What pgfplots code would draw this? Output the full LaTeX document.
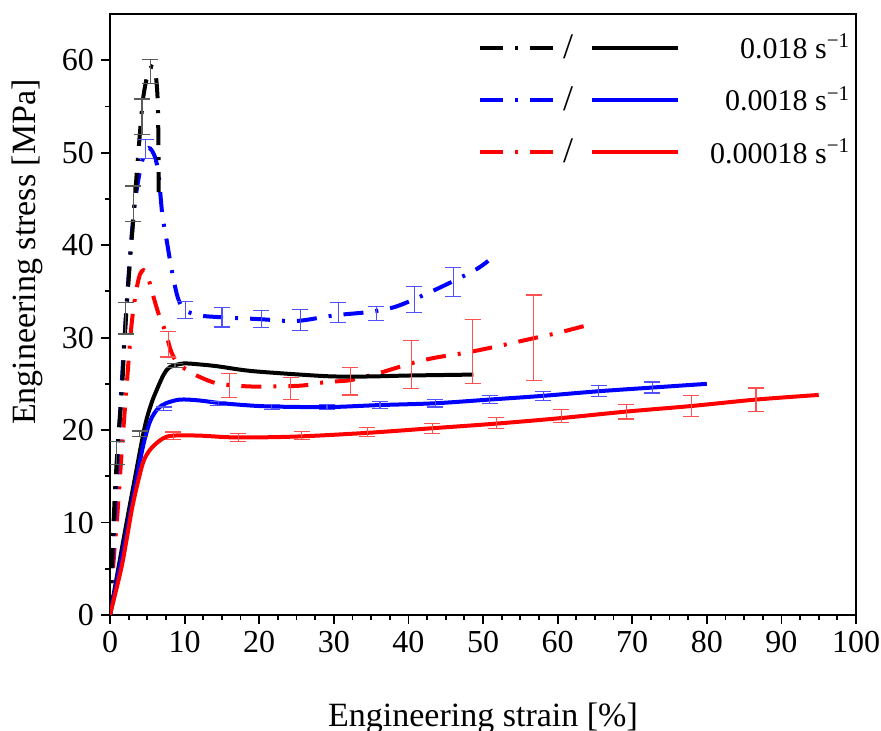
\documentclass[border=0pt]{standalone}
\usepackage{fontspec}
\setmainfont{Liberation Serif}
\usepackage{pgfplots}
\pgfplotsset{compat=1.18}
\definecolor{eblack}{RGB}{90,90,90}
\definecolor{eblue}{RGB}{80,80,255}
\definecolor{ered}{RGB}{255,80,80}
\pgfplotsset{
  ddash/.style={line width=2pt, smooth, tension=0.5, dash pattern=on 10pt off 6pt on 1.5pt off 6pt},
  sline/.style={line width=2pt, smooth, tension=0.5, solid},
  ebar/.style={forget plot, draw=none, mark=none,
    error bars/.cd, y dir=both, y explicit,
    error bar style={line width=0.6pt, draw=#1, solid},
    error mark options={rotate=90, mark size=4pt, line width=0.6pt, draw=#1, solid}},
}
\begin{document}
\begin{tikzpicture}
\begin{axis}[
  scale only axis, width=373pt, height=300.5pt,
  xmin=0, xmax=100, ymin=0, ymax=65,
  xtick={0,10,...,100}, ytick={0,10,...,60},
  minor x tick num=3, minor y tick num=1,
  tick align=outside, tick pos=left,
  major tick length=4.5pt, minor tick length=2.5pt,
  axis line style={line width=1pt},
  every tick/.style={line width=0.9pt, black},
  ticklabel style={font=\fontsize{16}{18}\selectfont},
  /pgf/number format/assume math mode=true,
  xlabel={Engineering strain [\%]},
  ylabel={Engineering stress [MPa]},
  label style={font=\fontsize{17}{20}\selectfont},
  xlabel style={at={(axis description cs:0.5,-0.185)}, anchor=base},
  ylabel style={at={(axis description cs:-0.111,0.604)}, anchor=center},
  legend style={draw=none, fill=none, at={(axis cs:99.8,63.3)}, anchor=north east,
    font=\fontsize{15}{17}\selectfont, row sep=8.5pt, inner sep=0pt},
  legend cell align=right,
  legend image code/.code={
    \draw[#1, dash pattern=on 11.5pt off 6pt on 1.5pt off 6pt] (0pt,0pt) -- (37pt,0pt);
    \node[text=black, font=\fontsize{18}{20}\selectfont, inner sep=0pt] at (47.5pt,0pt) {/};
    \draw[#1, solid] (56pt,0pt) -- (99pt,0pt);
    \path (112pt,0pt);
  },
]
% dash-dot curves
\addplot[ddash, red, forget plot] coordinates {
(0,0) (0.5,6) (1.0,11) (1.6,18) (2.3,25.5) (2.9,31.5) (3.5,35) (4.0,36.8) (4.5,37.3) (5.0,36.8)
(5.8,34.5) (6.5,32.6) (7.4,30.7) (8.2,28.5) (9,27.3) (10.1,26.6) (11.6,25.9) (14.1,25.1) (17,24.8)
(20,24.7) (25.5,24.8) (29,25.2) (32.2,25.4) (36.2,26.2) (40.3,27.2) (43.4,27.8) (47.9,28.4)
(51,28.9) (53.3,29.3) (57.7,30.1) (60,30.5) (64.7,31.5)};
\addplot[ddash, blue, forget plot] coordinates {
(0,0) (0.4,7) (0.9,15) (1.5,24) (2.1,32) (2.8,40) (3.4,45) (4.3,49.1) (5.2,50.5) (6.0,49.6)
(6.5,47.7) (7.0,43.4) (7.6,40.5) (8.3,37.2) (9.1,34.3) (10,33.0) (12,32.4) (15,32.2) (20,32.0)
(25,31.8) (30,32.4) (35,32.8) (38.5,33.4) (43.4,35.1) (48.7,37.2) (50.7,38.3)};
\addplot[ddash, black, forget plot] coordinates {
(0,0) (0.3,6.7) (0.7,13.8) (1.1,19) (1.6,24.3) (2.0,30.4) (2.7,38.6) (3.1,42.6) (3.8,50)
(4.4,55.6) (5.0,58.3) (5.6,59.3) (6.1,58.6) (6.4,55.5) (6.5,50) (6.5,44.8)};
% solid curves
\addplot[sline, black] coordinates {
(0,0) (2,9) (3.5,15.5) (4.7,20.5) (5.6,23) (6.4,24.6) (7.2,26) (8,26.8) (9.8,27.2) (12,27.1)
(14.4,26.9) (18.8,26.4) (25.5,26.0) (30,25.8) (35,25.8) (40,25.9) (48.7,26.0)};
\addlegendentry{0.018 s\textsuperscript{−1}}
\addplot[sline, blue] coordinates {
(0,0) (2,8) (3.5,14.5) (4.5,18.5) (5.4,21) (6.4,22.3) (7.5,22.9) (9.4,23.3) (12,23.2) (15,22.9)
(20,22.6) (25,22.5) (30,22.5) (36,22.7) (43.6,22.9) (50.9,23.3) (58,23.7) (65.5,24.2) (72.7,24.6) (80,25.0)};
\addlegendentry{0.0018 s\textsuperscript{−1}}
\addplot[sline, red] coordinates {
(0,0) (1.5,5) (2.3,8.5) (3.1,12.1) (4.4,16.4) (5.5,18) (7.1,19.1) (8.5,19.4) (12,19.4) (17,19.2)
(25,19.3) (34.5,19.7) (43.2,20.2) (51.8,20.7) (60.5,21.3) (69.2,22.0) (77.9,22.6) (86.6,23.3) (95,23.8)};
\addlegendentry{0.00018 s\textsuperscript{−1}}
% error bars
\addplot[ebar=eblack] coordinates {
(0.9,17.5) +- (0,1.25) (2.1,32.1) +- (0,1.7) (3.1,44.5) +- (0,1.9) (4.3,53.9) +- (0,1.9) (5.4,58.8) +- (0,1.3)
(4,19.6) +- (0,0.3) (8.7,27.0) +- (0,0.2)};
\addplot[ebar=eblue] coordinates {
(4.8,50.4) +- (0,1.0) (10.1,33.0) +- (0,0.9) (15.0,32.2) +- (0,1.05) (20.3,32.0) +- (0,0.9)
(25.5,31.9) +- (0,1.1) (30.6,32.7) +- (0,1.1) (35.7,32.6) +- (0,0.75) (40.8,34.1) +- (0,1.4) (46.0,36.0) +- (0,1.55)
(7.2,22.3) +- (0,0.2) (14.5,22.9) +- (0,0.2) (21.7,22.5) +- (0,0.3) (29.1,22.5) +- (0,0.3) (36.2,22.7) +- (0,0.35)
(43.6,22.9) +- (0,0.4) (50.9,23.3) +- (0,0.45) (58.1,23.7) +- (0,0.5) (65.5,24.2) +- (0,0.6) (72.7,24.6) +- (0,0.6)};
\addplot[ebar=ered] coordinates {
(7.8,29.3) +- (0,1.4) (16.0,24.8) +- (0,1.3) (24.2,24.5) +- (0,1.2) (32.2,25.3) +- (0,1.5)
(40.4,27.1) +- (0,2.6) (48.6,28.5) +- (0,3.5) (56.8,30.0) +- (0,4.6)
(8.5,19.4) +- (0,0.4) (17.2,19.2) +- (0,0.4) (25.7,19.4) +- (0,0.45) (34.5,19.8) +- (0,0.5) (43.2,20.2) +- (0,0.55)
(51.8,20.8) +- (0,0.6) (60.5,21.5) +- (0,0.7) (69.2,22.0) +- (0,0.8) (77.9,22.6) +- (0,1.1) (86.6,23.3) +- (0,1.25)};
\end{axis}
\pgfresetboundingbox
\path ([shift={(-55pt,-58pt)}]current axis.south west) rectangle ([shift={(12.5pt,7pt)}]current axis.north east);
\end{tikzpicture}
\end{document}
